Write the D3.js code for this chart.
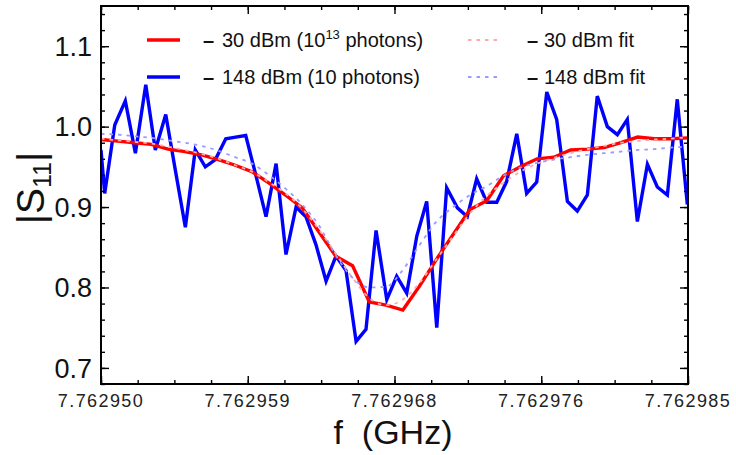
<!DOCTYPE html>
<html>
<head>
<meta charset="utf-8">
<script src="https://cdn.jsdelivr.net/npm/d3@7"></script>
<style>
  html, body { margin: 0; padding: 0; background: #fff; }
  svg { display: block; font-family: "Liberation Sans", Arial, Helvetica, sans-serif; }
</style>
</head>
<body>
<svg id="chart" width="736" height="455"></svg>
<script>
// ---------------- DATA ----------------
// frequency offsets (kHz) relative to 7.762950 GHz
const baseFreqGHz = 7.762950;

// -148 dBm (10 photons) measured |S11|
const lowPowerFreq = [0.00, 0.22, 0.82, 1.45, 2.05, 2.67, 3.24, 3.86, 4.44, 5.03, 5.62, 6.22, 6.82, 7.44, 8.03, 8.63,
  9.24, 9.84, 10.44, 11.03, 11.63, 12.22, 12.82, 13.42, 14.01, 14.61, 15.21, 15.80, 16.40, 17.04, 17.63, 18.23,
  18.83, 19.42, 20.02, 20.61, 21.25, 21.84, 22.40, 23.00, 23.60, 24.19, 24.79, 25.38, 25.98, 26.58, 27.17, 27.81,
  28.40, 29.00, 29.59, 30.19, 30.79, 31.38, 31.98, 32.58, 33.17, 33.77, 34.36, 34.96];
const lowPowerS11 = [0.971, 0.917, 1.002, 1.032, 0.967, 1.052, 0.971, 1.015, 0.945, 0.875, 0.971, 0.950, 0.959, 0.985, 0.987, 0.989,
  0.939, 0.888, 0.954, 0.841, 0.900, 0.888, 0.853, 0.808, 0.839, 0.821, 0.733, 0.748, 0.871, 0.785, 0.814, 0.793,
  0.864, 0.907, 0.750, 0.924, 0.899, 0.888, 0.935, 0.906, 0.906, 0.932, 0.991, 0.917, 0.931, 1.043, 1.009, 0.907,
  0.895, 0.915, 1.038, 1.000, 0.990, 1.009, 0.882, 0.953, 0.925, 0.915, 1.034, 0.903];

// -30 dBm (10^13 photons) measured |S11|, and the two fits (1 kHz steps)
const highPowerFreq = [0, 1, 2, 3, 4, 5, 6, 7, 8, 9, 10, 11, 12, 13, 14, 15, 16, 17,
  18, 19, 20, 21, 22, 23, 24, 25, 26, 27, 28, 29, 30, 31, 32, 33, 34, 35];
const highPowerS11 = [0.984, 0.982, 0.980, 0.978, 0.972, 0.969, 0.965, 0.959, 0.952, 0.944, 0.930, 0.915, 0.899, 0.869, 0.839, 0.827, 0.782, 0.778,
  0.772, 0.802, 0.835, 0.866, 0.897, 0.908, 0.939, 0.950, 0.960, 0.962, 0.971, 0.972, 0.974, 0.980, 0.987, 0.985, 0.985, 0.986];
const highPowerFit = [0.985, 0.983, 0.981, 0.979, 0.975, 0.971, 0.966, 0.960, 0.952, 0.944, 0.931, 0.917, 0.898, 0.872, 0.842, 0.812, 0.787, 0.778,
  0.785, 0.806, 0.835, 0.864, 0.892, 0.914, 0.930, 0.944, 0.954, 0.961, 0.967, 0.972, 0.976, 0.980, 0.982, 0.984, 0.985, 0.987];
const lowPowerFit = [0.991, 0.990, 0.988, 0.986, 0.983, 0.980, 0.976, 0.970, 0.962, 0.954, 0.940, 0.923, 0.903, 0.877, 0.840, 0.812, 0.800, 0.801,
  0.822, 0.853, 0.882, 0.900, 0.915, 0.926, 0.939, 0.949, 0.955, 0.959, 0.962, 0.965, 0.967, 0.969, 0.971, 0.972, 0.974, 0.975];

// tick labels
const xTickOffsets = [0, 8.75, 17.5, 26.25, 35];
const xTickLabels = ["7.762950", "7.762959", "7.762968", "7.762976", "7.762985"];
const yTickValues = [0.7, 0.8, 0.9, 1.0, 1.1];
const yTickLabels = ["0.7", "0.8", "0.9", "1.0", "1.1"];

// ---------------- LAYOUT ----------------
const W = 736, H = 455;
const m = { left: 101, top: 6, right: 48, bottom: 71 };
const iw = W - m.left - m.right, ih = H - m.top - m.bottom;

const svg = d3.select("#chart");
const x = d3.scaleLinear().domain([0, 35]).range([m.left, m.left + iw]);
const y = d3.scaleLinear().domain([0.68, 1.15]).range([m.top + ih, m.top]);

svg.append("defs").append("clipPath").attr("id", "clip")
  .append("rect").attr("x", m.left).attr("y", m.top).attr("width", iw).attr("height", ih);

const plot = svg.append("g").attr("clip-path", "url(#clip)");
const line = d3.line().x(d => x(d[0])).y(d => y(d[1]));
const smooth = d3.line().x(d => x(d[0])).y(d => y(d[1])).curve(d3.curveMonotoneX);

plot.append("path").datum(d3.zip(lowPowerFreq, lowPowerS11))
  .attr("d", line).attr("fill", "none").attr("stroke", "#0000ff").attr("stroke-width", 3.4)
  .attr("stroke-linejoin", "miter");
plot.append("path").datum(d3.zip(highPowerFreq, highPowerS11))
  .attr("d", line).attr("fill", "none").attr("stroke", "#ff0000").attr("stroke-width", 3.4);
plot.append("path").datum(d3.zip(highPowerFreq, highPowerFit))
  .attr("d", smooth).attr("fill", "none").attr("stroke", "#ffaaaa").attr("stroke-width", 1.8)
  .attr("stroke-dasharray", "3.5,5");
plot.append("path").datum(d3.zip(highPowerFreq, lowPowerFit))
  .attr("d", smooth).attr("fill", "none").attr("stroke", "#9a9aff").attr("stroke-width", 1.8)
  .attr("stroke-dasharray", "3.5,5");

// ---------------- AXES ----------------
const xMinor = d3.range(0, 35.001, 35 / 16);
const yMinor = d3.range(0.68, 1.1501, 0.02);

function styleAxis(g) {
  g.select(".domain").remove();
  g.selectAll(".tick line").attr("stroke", "#000").attr("stroke-width", 1.4);
}
const gx = (axisFn, scale, vals, size, ty) => {
  svg.append("g").attr("transform", `translate(0,${ty})`)
    .call(axisFn(scale).tickValues(vals).tickSize(size).tickFormat(""))
    .call(styleAxis);
};
const gy = (axisFn, scale, vals, size, tx) => {
  svg.append("g").attr("transform", `translate(${tx},0)`)
    .call(axisFn(scale).tickValues(vals).tickSize(size).tickFormat(""))
    .call(styleAxis);
};
gx(d3.axisBottom, x, xMinor, -4, m.top + ih);
gx(d3.axisBottom, x, xTickOffsets, -8, m.top + ih);
gx(d3.axisTop, x, xMinor, -4, m.top);
gx(d3.axisTop, x, xTickOffsets, -8, m.top);
gy(d3.axisLeft, y, yMinor, -4, m.left);
gy(d3.axisLeft, y, yTickValues, -8, m.left);
gy(d3.axisRight, y, yMinor, -4, m.left + iw);
gy(d3.axisRight, y, yTickValues, -8, m.left + iw);

svg.append("rect").attr("x", m.left).attr("y", m.top).attr("width", iw).attr("height", ih)
  .attr("fill", "none").attr("stroke", "#000").attr("stroke-width", 2);

// tick labels
svg.append("g").selectAll("text").data(xTickOffsets).join("text")
  .attr("x", d => x(d)).attr("y", 407)
  .attr("text-anchor", "middle").attr("font-size", 18).attr("letter-spacing", 1.4)
  .attr("fill", "#222")
  .text((d, i) => xTickLabels[i]);

svg.append("g").selectAll("text").data(yTickValues).join("text")
  .attr("x", 92).attr("y", d => y(d)).attr("dy", "0.36em")
  .attr("text-anchor", "end").attr("font-size", 27).attr("fill", "#111")
  .text((d, i) => yTickLabels[i]);

// axis titles
svg.append("text").attr("x", 393).attr("y", 444).attr("text-anchor", "middle")
  .attr("font-size", 34).attr("fill", "#111").attr("xml:space", "preserve").text("f  (GHz)");

const yl = svg.append("text").attr("transform", "translate(44,188) rotate(-90)")
  .attr("text-anchor", "middle").attr("font-size", 39).attr("fill", "#111");
yl.append("tspan").text("|S");
yl.append("tspan").attr("font-size", 25).attr("dy", 7).text("11");
yl.append("tspan").attr("dy", -7).text("|");

// ---------------- LEGEND ----------------
const legend = svg.append("g");
legend.append("line").attr("x1", 147).attr("x2", 180).attr("y1", 40).attr("y2", 40)
  .attr("stroke", "#ff0000").attr("stroke-width", 3.4);
legend.append("line").attr("x1", 147).attr("x2", 180).attr("y1", 77).attr("y2", 77)
  .attr("stroke", "#0000ff").attr("stroke-width", 3.4);
legend.append("line").attr("x1", 468).attr("x2", 500).attr("y1", 40).attr("y2", 40)
  .attr("stroke", "#ffaaaa").attr("stroke-width", 1.8).attr("stroke-dasharray", "3.5,5");
legend.append("line").attr("x1", 468).attr("x2", 500).attr("y1", 77).attr("y2", 77)
  .attr("stroke", "#9a9aff").attr("stroke-width", 1.8).attr("stroke-dasharray", "3.5,5");

const dashes = [[203, 47], [203, 84], [527, 47], [527, 84]];
legend.selectAll("text.dash").data(dashes).join("text").attr("class", "dash")
  .attr("x", d => d[0]).attr("y", d => d[1]).attr("font-size", 20).attr("font-weight", "bold")
  .attr("fill", "#111").text("–");

const t1 = legend.append("text").attr("x", 222).attr("y", 47).attr("font-size", 20).attr("fill", "#111");
t1.append("tspan").text("30 dBm (10");
t1.append("tspan").attr("font-size", 13).attr("dy", -8).text("13");
t1.append("tspan").attr("dy", 8).text(" photons)");
legend.append("text").attr("x", 222).attr("y", 84).attr("font-size", 20).attr("fill", "#111")
  .text("148 dBm (10 photons)");
legend.append("text").attr("x", 544).attr("y", 47).attr("font-size", 20).attr("fill", "#111")
  .text("30 dBm fit");
legend.append("text").attr("x", 544).attr("y", 84).attr("font-size", 20).attr("fill", "#111")
  .text("148 dBm fit");
</script>
</body>
</html>
